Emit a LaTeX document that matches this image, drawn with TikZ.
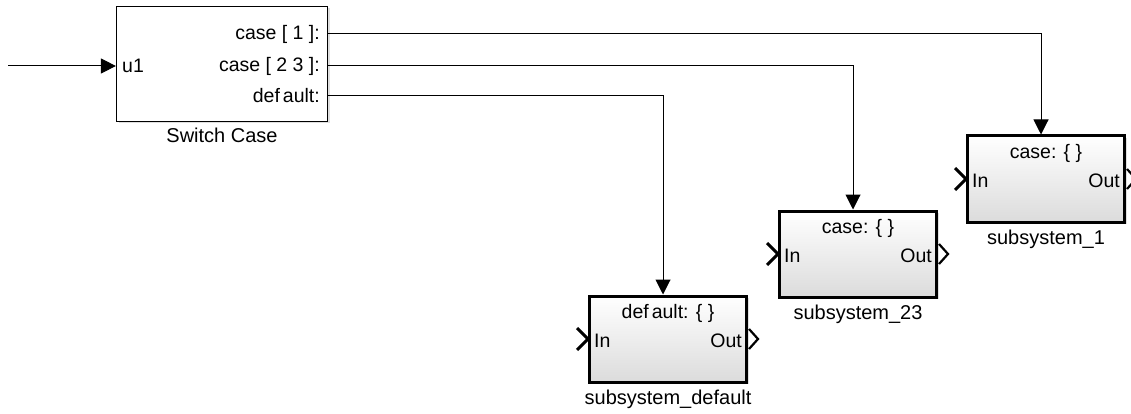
\documentclass[tikz,border=0pt]{standalone}
\usepackage{fontspec}
\setmainfont{Liberation Sans}
\usetikzlibrary{arrows.meta,positioning,shadows}

\begin{document}
\begin{tikzpicture}[
  x=1pt, y=-1pt,
  >={Triangle[length=15pt,width=15pt]},
  every node/.style={font=\fontsize{19.5}{22}\selectfont, inner sep=1pt},
  swblock/.style={draw, line width=1.2pt, fill=white, minimum width=211pt, minimum height=115pt,
    drop shadow={shadow xshift=2pt, shadow yshift=-2pt, opacity=0.25}},
  subsys/.style={draw, line width=3pt, top color=white, bottom color=gray!28, minimum width=157pt, minimum height=86pt,
    drop shadow={shadow xshift=2pt, shadow yshift=-2pt, opacity=0.25}},
  caption/.style={font=\fontsize{20}{22}\selectfont},
  wire/.style={line width=1pt}
]
\useasboundingbox (0,0) rectangle (1131,414);

% switch case block
\node[swblock] (sw) at (222,64) {};
\node[caption, below=5pt of sw] (swlbl) {Switch Case};
\node[anchor=west] (u1) at (121,66) {u1};
\node[anchor=east] (p1) at (321,34) {case [ 1 ]:};
\node[anchor=east] (p23) at (321,66) {case [ 2 3 ]:};
\node[anchor=east] (pdef) at (321,96) {def\kern3pt ault:};
\coordinate (src) at (8,66);

% action subsystems
\node[subsys] (sub1) at (1046,179) {};
\node[subsys] (sub23) at (858,254) {};
\node[subsys] (subdef) at (668,339) {};
\node[caption, below=5pt of sub1] (sub1lbl) {subsystem\_1};
\node[caption, below=5pt of sub23] (sub23lbl) {subsystem\_23};
\node[caption, below=5pt of subdef] (subdeflbl) {subsystem\_default};

\node[below=9pt of sub1.north] (h1) {case: \{ \}};
\node[below=9pt of sub23.north] (h23) {case: \{ \}};
\node[below=9pt of subdef.north] (hdef) {def\kern3pt ault: \{ \}};

\foreach \s in {sub1,sub23,subdef} {
  \node[anchor=west] (\s in) at ([xshift=5pt,yshift=-2pt]\s.west) {In};
  \node[anchor=east] (\s out) at ([xshift=-5pt,yshift=-2pt]\s.east) {Out};
  \draw[line width=3pt, line join=miter] ([xshift=-11pt,yshift=11pt]\s.west) -- (\s.west) -- ([xshift=-11pt,yshift=-11pt]\s.west);
  \draw[line width=2.2pt, line join=miter] ([xshift=1pt,yshift=10pt]\s.east) -- ([xshift=10pt]\s.east) -- ([xshift=1pt,yshift=-10pt]\s.east);
}

% signal lines
\draw[wire, ->] (src) -- (sw.west |- u1);
\draw[wire, ->] (p1 -| sw.east) -| ([xshift=-5pt]sub1.north);
\draw[wire, ->] (p23 -| sw.east) -| ([xshift=-5pt]sub23.north);
\draw[wire, ->] (pdef -| sw.east) -| ([xshift=-5pt]subdef.north);
\end{tikzpicture}
\end{document}
